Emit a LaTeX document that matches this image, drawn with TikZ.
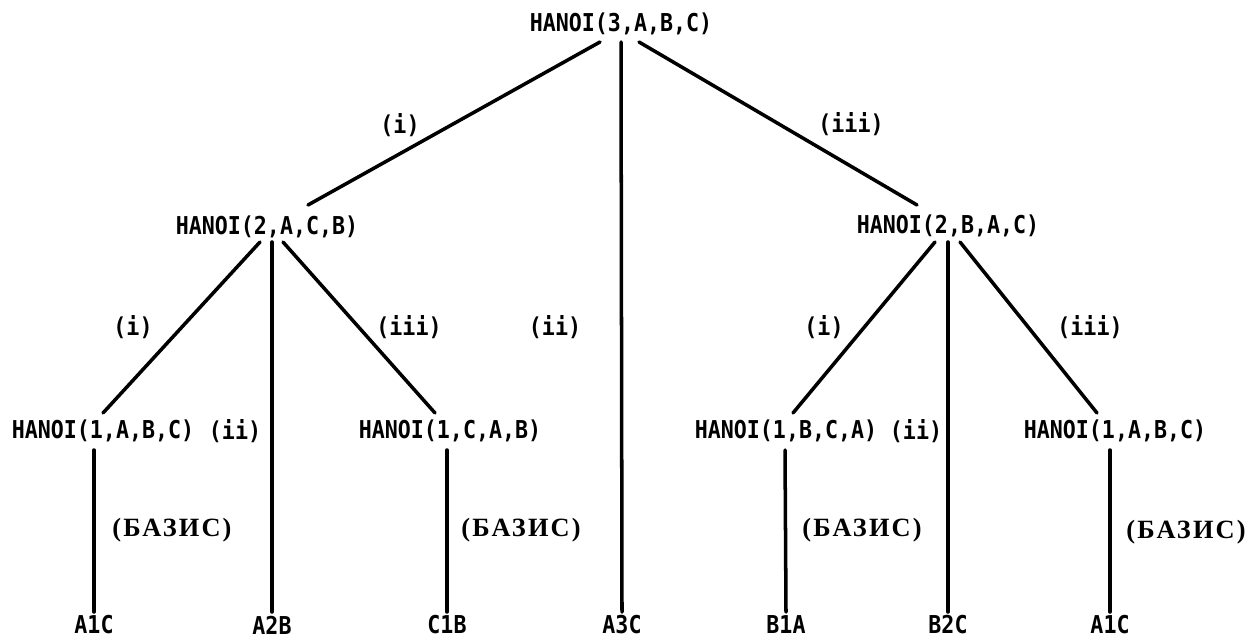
\documentclass[tikz,border=0pt]{standalone}
\usepackage{fontspec}
\usepackage{tikz}
\usetikzlibrary{calc}
\newfontfamily\callfont[FakeStretch=0.88]{DejaVu Sans Mono}
\newfontfamily\basisfont[LetterSpace=8]{Liberation Serif}

\begin{document}
\begin{tikzpicture}[
    x=0.02cm, y=-0.02cm,
    call/.style={inner sep=0pt, font=\callfont\bfseries\fontsize{14}{16}\selectfont},
    basis/.style={inner sep=0pt, font=\basisfont\bfseries\fontsize{15}{17}\selectfont},
    edge/.style={line width=2pt, line cap=round},
]
\useasboundingbox (0,0) rectangle (1260,642);

% calls
\node[call] (h3) at (621,24) {HANOI(3,A,B,C)};
\node[call] (h2l) at (267,227) {HANOI(2,A,C,B)};
\node[call] (h2r) at (948,226) {HANOI(2,B,A,C)};
\node[call] (h1a) at (103,431) {HANOI(1,A,B,C)};
\node[call] (h1b) at (450,431) {HANOI(1,C,A,B)};
\node[call] (h1c) at (786,431) {HANOI(1,B,C,A)};
\node[call] (h1d) at (1115,431) {HANOI(1,A,B,C)};

% moves
\node[call] (m1) at (94,625) {A1C};
\node[call] (m2) at (272,625) {A2B};
\node[call] (m3) at (447,625) {C1B};
\node[call] (m4) at (622,625) {A3C};
\node[call] (m5) at (786,625) {B1A};
\node[call] (m6) at (948,625) {B2C};
\node[call] (m7) at (1110,625) {A1C};

% step labels
\node[call] (s1) at (400,125) {(i)};
\node[call] (s2) at (555,327) {(ii)};
\node[call] (s3) at (851,124) {(iii)};
\node[call] (s1l) at (133,327) {(i)};
\node[call] (s2l) at (235,431) {(ii)};
\node[call] (s3l) at (409,327) {(iii)};
\node[call] (s1r) at (824,327) {(i)};
\node[call] (s2r) at (916,431) {(ii)};
\node[call] (s3r) at (1090,327) {(iii)};

\node[basis] (b1) at (172,530) {(БАЗИС)};
\node[basis] (b2) at (521,530) {(БАЗИС)};
\node[basis] (b3) at (862,530) {(БАЗИС)};
\node[basis] (b4) at (1186,532) {(БАЗИС)};

% tree
\draw[edge] ($(h3)+(-21,18)$) -- ($(h2l)+(41,-22)$);
\draw[edge] ($(h3)+(0,18)$) -- ($(m4)+(0,-13)$);
\draw[edge] ($(h3)+(18,18)$) -- ($(h2r)+(-31,-21)$);

\draw[edge] ($(h2l)+(-7,15)$) -- ($(h1a)+(0,-18)$);
\draw[edge] ($(h2l)+(5,15)$) -- ($(m2)+(0,-13)$);
\draw[edge] ($(h2l)+(16,15)$) -- ($(h1b)+(-15,-18)$);
\draw[edge] ($(h2r)+(-13,16)$) -- ($(h1c)+(7,-18)$);
\draw[edge] ($(h2r)+(0,16)$) -- ($(m6)+(0,-13)$);
\draw[edge] ($(h2r)+(12,16)$) -- ($(h1d)+(-18,-18)$);

\draw[edge] ($(h1a)+(-9,19)$) -- ($(m1)+(0,-13)$);
\draw[edge] ($(h1b)+(-3,19)$) -- ($(m3)+(0,-13)$);
\draw[edge] ($(h1c)+(-1,19)$) -- ($(m5)+(0,-13)$);
\draw[edge] ($(h1d)+(-5,19)$) -- ($(m7)+(0,-13)$);
\end{tikzpicture}
\end{document}
